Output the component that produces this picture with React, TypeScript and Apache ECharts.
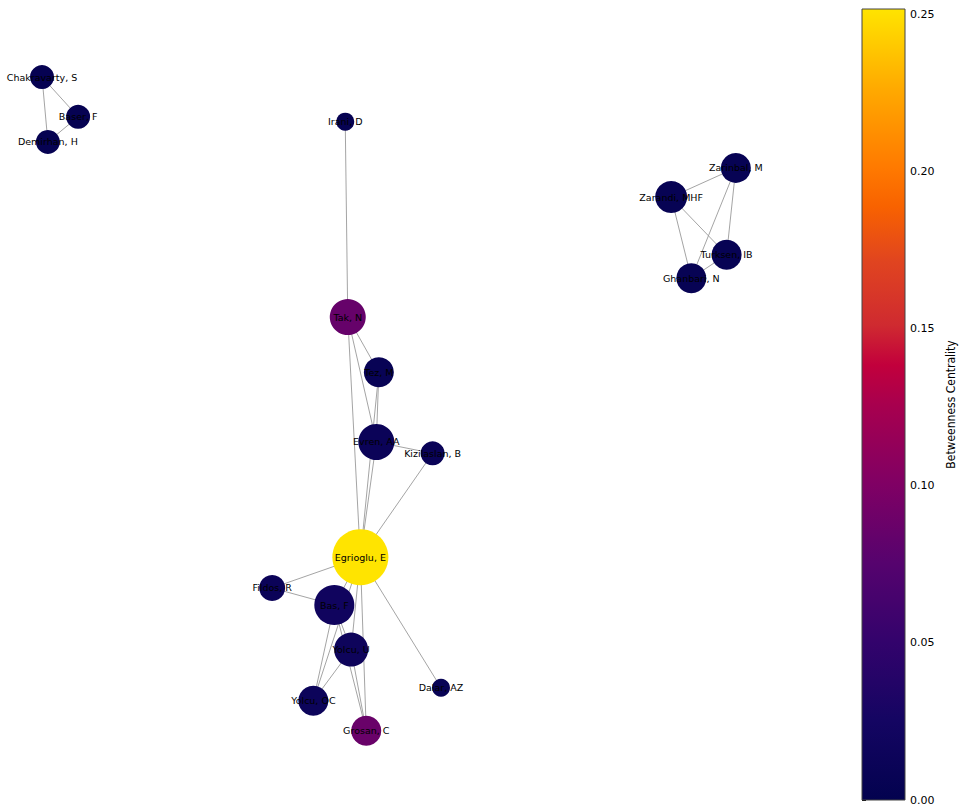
import React, { useEffect, useRef } from "react";
import * as echarts from "echarts";

// Author names
const authors = [
  "Chakravarty, S", "Baser, F", "Demirhan, H", "Irani, D",
  "Zarinbal, M", "Zarandi, MHF", "Turksen, IB", "Ghanbari, N",
  "Tak, N", "Tez, M", "Evren, AA", "Kizilaslan, B", "Egrioglu, E",
  "Fildos, R", "Bas, F", "Yolcu, U", "Dalar, AZ", "Yolcu, OC", "Grosan, C",
];
// layout positions (normalized spring-layout coordinates)
const layoutX = [0.05, 0.093, 0.057, 0.411, 0.876, 0.799, 0.865, 0.823, 0.414, 0.451, 0.448, 0.515, 0.429, 0.324, 0.398, 0.418, 0.525, 0.373, 0.436];
const layoutY = [0.095, 0.144, 0.175, 0.15, 0.207, 0.243, 0.314, 0.343, 0.391, 0.459, 0.545, 0.559, 0.687, 0.725, 0.746, 0.801, 0.848, 0.864, 0.901];
// betweenness centrality
const betweenness = [0.004, 0.004, 0.004, 0.004, 0.006, 0.006, 0.006, 0.006, 0.085, 0.008, 0.012, 0.01, 0.252, 0.012, 0.02, 0.016, 0.008, 0.014, 0.087];
// node sizes (diameter)
const nodeSizes = [24, 24, 24, 18, 30, 32, 30, 30, 36, 30, 36, 24, 56, 26, 40, 34, 18, 30, 30];
// co-authorship edges
const edgeSources = [
  "Chakravarty, S", "Chakravarty, S", "Baser, F",
  "Zarinbal, M", "Zarinbal, M", "Zarinbal, M", "Zarandi, MHF", "Zarandi, MHF", "Turksen, IB",
  "Irani, D", "Tak, N", "Tak, N", "Tak, N", "Tez, M", "Tez, M", "Evren, AA", "Evren, AA", "Kizilaslan, B",
  "Egrioglu, E", "Egrioglu, E", "Egrioglu, E", "Egrioglu, E", "Egrioglu, E", "Egrioglu, E",
  "Fildos, R", "Bas, F", "Bas, F", "Bas, F", "Yolcu, U", "Yolcu, U",
];
const edgeTargets = [
  "Baser, F", "Demirhan, H", "Demirhan, H",
  "Zarandi, MHF", "Turksen, IB", "Ghanbari, N", "Turksen, IB", "Ghanbari, N", "Ghanbari, N",
  "Tak, N", "Tez, M", "Evren, AA", "Egrioglu, E", "Evren, AA", "Egrioglu, E", "Kizilaslan, B", "Egrioglu, E", "Egrioglu, E",
  "Fildos, R", "Bas, F", "Yolcu, U", "Yolcu, OC", "Grosan, C", "Dalar, AZ",
  "Bas, F", "Yolcu, U", "Yolcu, OC", "Grosan, C", "Yolcu, OC", "Grosan, C",
];
// colorbar
const cbarMin = 0;
const cbarMax = 0.2519;
const cbarTicks = [0, 0.05, 0.1, 0.15, 0.2, 0.25];

const cmapStops: [number, string][] = [
  [0, "#03024f"],
  [0.1, "#140562"],
  [0.2, "#33036c"],
  [0.3, "#56036e"],
  [0.4, "#800064"],
  [0.5, "#a8004e"],
  [0.55, "#c2003c"],
  [0.6, "#cf2a30"],
  [0.68, "#e04420"],
  [0.75, "#f86200"],
  [0.8, "#ff7a00"],
  [0.9, "#ffaa00"],
  [1, "#ffe400"],
];

function hexToRgb(h: string) {
  const n = parseInt(h.slice(1), 16);
  return [(n >> 16) & 255, (n >> 8) & 255, n & 255];
}
function cmap(t: number) {
  t = Math.max(0, Math.min(1, t));
  for (let i = 1; i < cmapStops.length; i++) {
    if (t <= cmapStops[i][0]) {
      const [t0, c0] = cmapStops[i - 1];
      const [t1, c1] = cmapStops[i];
      const f = (t - t0) / (t1 - t0);
      const a = hexToRgb(c0), b = hexToRgb(c1);
      const c = a.map((v, k) => Math.round(v + (b[k] - v) * f));
      return `rgb(${c[0]},${c[1]},${c[2]})`;
    }
  }
  return cmapStops[cmapStops.length - 1][1];
}

export default function App() {
  const ref = useRef<HTMLDivElement>(null);
  useEffect(() => {
    document.body.style.margin = "0";
    const chart = echarts.init(ref.current!, null, { renderer: "svg" });
    const nodes = authors.map((name, i) => ({
      name,
      value: [layoutX[i], layoutY[i]],
      symbolSize: nodeSizes[i],
      itemStyle: { color: cmap((betweenness[i] - cbarMin) / (cbarMax - cbarMin)) },
    }));
    const links = edgeSources.map((s, i) => ({ source: s, target: edgeTargets[i] }));
    chart.setOption({
      animation: false,
      backgroundColor: "#fff",
      grid: [
        { left: 0, top: 0, width: 840, height: 811 },
        { left: 862, top: 9, width: 43, height: 791 },
      ],
      xAxis: [
        { gridIndex: 0, type: "value", min: 0, max: 1, show: false },
        { gridIndex: 1, type: "value", min: 0, max: 1, show: false },
      ],
      yAxis: [
        { gridIndex: 0, type: "value", min: 0, max: 1, inverse: true, show: false },
        {
          gridIndex: 1,
          type: "value",
          min: cbarMin,
          max: cbarMax,
          interval: 0.05,
          position: "right",
          splitLine: { show: false },
          axisLine: { show: false },
          axisTick: { show: true, inside: false, length: 4, lineStyle: { color: "#000" }, customValues: cbarTicks },
          axisLabel: {
            color: "#000",
            fontSize: 11,
            fontFamily: "DejaVu Sans",
            margin: 5,
            customValues: cbarTicks,
            formatter: (v: number) => v.toFixed(2),
          },
          name: "Betweenness Centrality",
          nameLocation: "middle",
          nameRotate: 90,
          nameGap: 40,
          nameTextStyle: { color: "#000", fontSize: 12, fontFamily: "DejaVu Sans Condensed, Liberation Sans Narrow, sans-serif" },
        },
      ],
      series: [
        {
          type: "graph",
          coordinateSystem: "cartesian2d",
          xAxisIndex: 0,
          yAxisIndex: 0,
          layout: "none",
          symbol: "circle",
          data: nodes,
          links,
          lineStyle: { color: "#9a9a9a", width: 0.9, opacity: 1, curveness: 0 },
          label: {
            show: true,
            position: "inside",
            color: "#000",
            fontSize: 9.5,
            fontFamily: "DejaVu Sans",
            textBorderWidth: 0,
          },
          emphasis: { disabled: true },
          z: 2,
        },
        {
          type: "custom",
          xAxisIndex: 1,
          yAxisIndex: 1,
          data: [[0, cbarMin, 1, cbarMax]],
          renderItem: (params: any, api: any) => {
            const p0 = api.coord([api.value(0), api.value(1)]);
            const p1 = api.coord([api.value(2), api.value(3)]);
            return {
              type: "rect",
              shape: { x: p0[0], y: p1[1], width: p1[0] - p0[0], height: p0[1] - p1[1] },
              style: {
                fill: new echarts.graphic.LinearGradient(
                  0, 1, 0, 0,
                  cmapStops.map(([o, c]) => ({ offset: o, color: c }))
                ),
                stroke: "#444",
                lineWidth: 1,
              },
            };
          },
          silent: true,
        },
      ],
    });
    return () => chart.dispose();
  }, []);
  return <div ref={ref} style={{ position: "fixed", left: 0, top: 0, width: 959, height: 811 }} />;
}
